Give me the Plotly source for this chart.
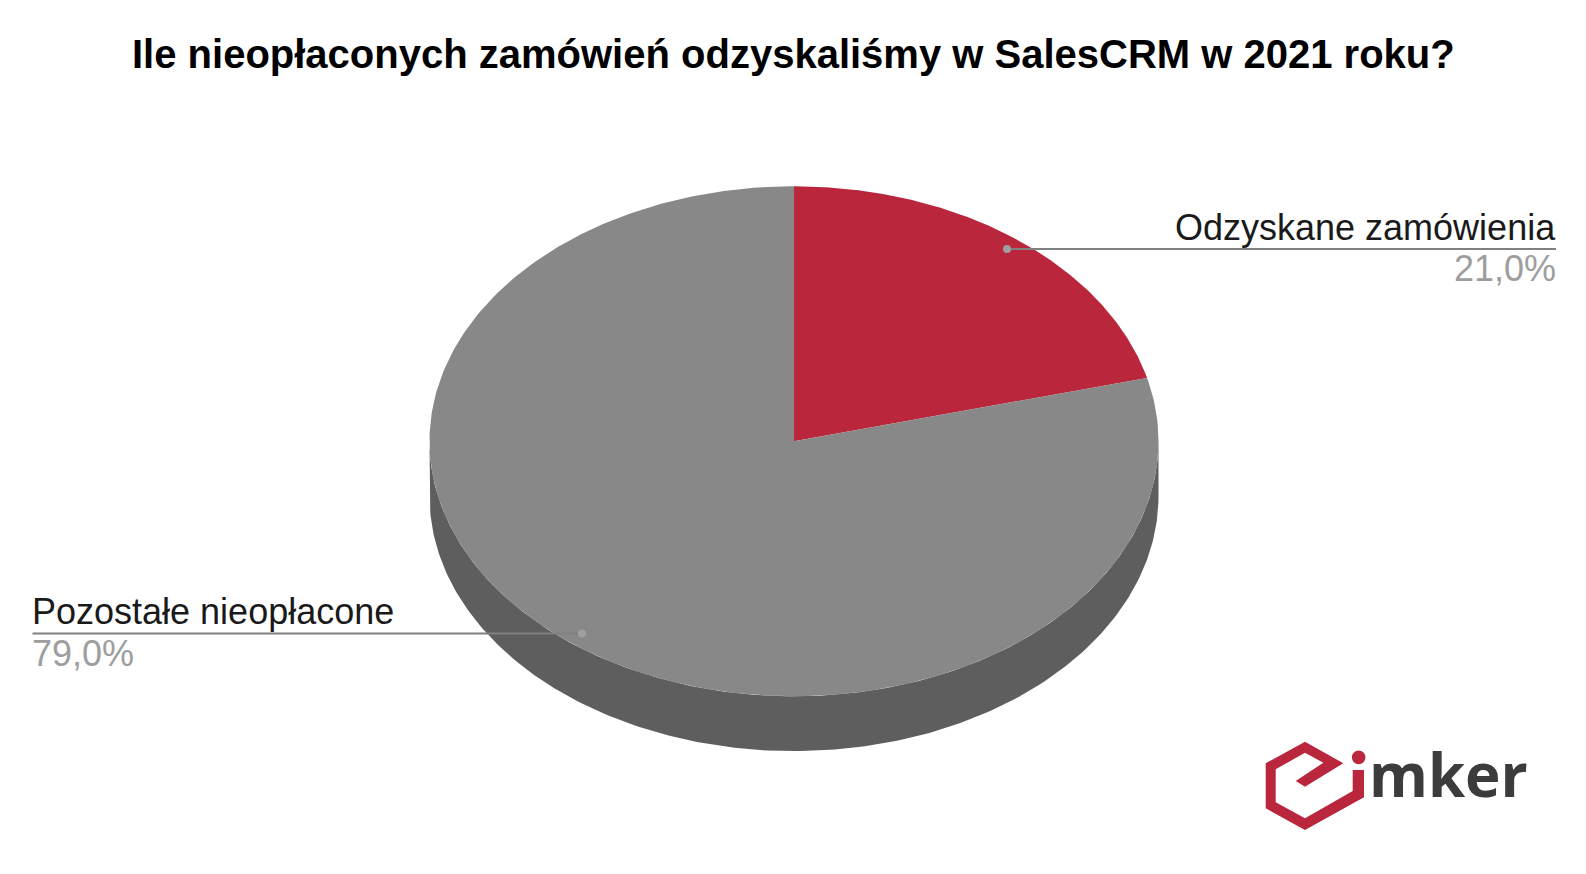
import numpy as np
import plotly.graph_objects as go

TITLE = "Ile nieopłaconych zamówień odzyskaliśmy w SalesCRM w 2021 roku?"
categories = ["Odzyskane zamówienia", "Pozostałe nieopłacone"]
values = [21.0, 79.0]
value_labels = ["21,0%", "79,0%"]
slice_colors = ["#BA273D", "#888888"]

CX, CY, RX, RY, DEPTH = 794.0, 441.3, 364.5, 255.0, 54.8

def ell(theta):
    return CX + RX * np.sin(theta), CY - RY * np.cos(theta)

fig = go.Figure()

# side wall
t = np.linspace(np.pi / 2, 3 * np.pi / 2, 240)
xs, ys = ell(t)
fig.add_trace(go.Scatter(x=np.r_[xs, xs[::-1]], y=np.r_[ys, ys[::-1] + DEPTH], fill="toself",
                         fillcolor="#5E5E5E", mode="lines", line=dict(width=0), hoverinfo="skip"))

# top face
start = 0.0
total = sum(values)
for v, c in zip(values, slice_colors):
    end = start + v / total * 2 * np.pi
    t = np.linspace(start, end, 360)
    xs, ys = ell(t)
    fig.add_trace(go.Scatter(x=np.r_[CX, xs, CX], y=np.r_[CY, ys, CY], fill="toself",
                             fillcolor=c, mode="lines", line=dict(width=0), hoverinfo="skip"))
    start = end

# leader lines
leaders = [((1007.0, 1556.0), 249.0), ((32.5, 582.0), 633.5)]
dots = [1007.0, 582.0]
for (xr, y), d in zip(leaders, dots):
    fig.add_trace(go.Scatter(x=list(xr), y=[y, y], mode="lines", line=dict(color="#808080", width=2), hoverinfo="skip"))
    fig.add_trace(go.Scatter(x=[d], y=[y], mode="markers", marker=dict(color="#A0A0A0", size=8), hoverinfo="skip"))

ann = [
    dict(x=793.5, y=54, text=f"<b>{TITLE}</b>", xanchor="center", font=dict(size=40, color="#000000")),
    dict(x=1558, y=227, text=categories[0], xanchor="right", font=dict(size=36, color="#1A1A1A")),
    dict(x=1557.5, y=268.5, text=value_labels[0], xanchor="right", font=dict(size=36, color="#9E9E9E")),
    dict(x=30, y=611, text=categories[1], xanchor="left", font=dict(size=36, color="#1A1A1A")),
    dict(x=30, y=653.5, text=value_labels[1], xanchor="left", font=dict(size=36, color="#9E9E9E")),
    dict(x=1367, y=774, text="<b>mker</b>", xanchor="left", font=dict(size=60, color="#3C3C3C", family="Open Sans")),
]
annotations = [dict(a, xref="x", yref="y", showarrow=False, yanchor="middle") for a in ann]

# logo
def zm(x, y):
    return 1230 + x / 3, 720 + y / 3
logo_pts = [(340,130),(225,65),(107,130),(107,265),(225,330),(402,232),(402,150),(368,150),(368,213),
            (225,295),(137,247),(137,148),(225,98),(280,128),(197,183),(225,200)]
path = "M " + " L ".join("%.1f %.1f" % zm(*p) for p in logo_pts) + " Z"
cx, cy = zm(386, 112)
shapes = [
    dict(type="path", path=path, fillcolor="#BA273D", line=dict(width=0), xref="x", yref="y"),
    dict(type="circle", x0=cx - 6.8, x1=cx + 6.8, y0=cy - 6.8, y1=cy + 6.8, fillcolor="#BA273D", line=dict(width=0), xref="x", yref="y"),
]

fig.update_layout(
    width=1586, height=874, margin=dict(l=0, r=0, t=0, b=0), showlegend=False,
    paper_bgcolor="#FFFFFF", plot_bgcolor="#FFFFFF",
    font=dict(family="Liberation Sans"),
    xaxis=dict(range=[0, 1586], visible=False, fixedrange=True),
    yaxis=dict(range=[874, 0], visible=False, fixedrange=True),
    annotations=annotations, shapes=shapes,
)
fig.write_html("out.html", config=dict(displayModeBar=False),
               post_script="document.body.style.margin='0';document.body.style.overflow='hidden';")
